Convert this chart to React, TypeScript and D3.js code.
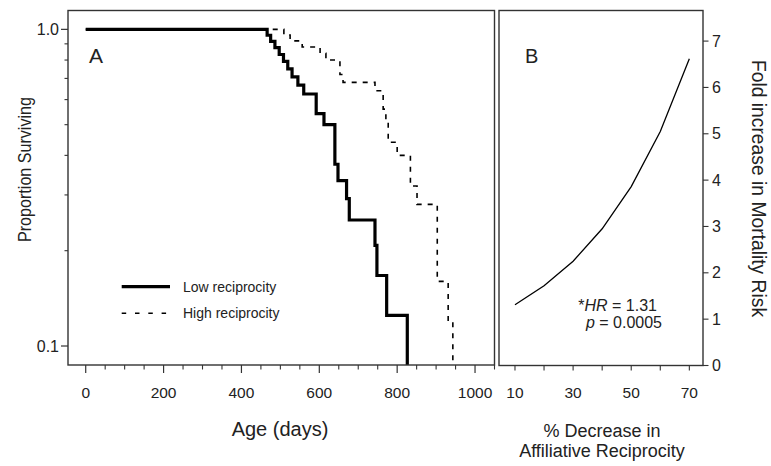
import * as d3 from 'd3'

// Panel A: Kaplan-Meier survival (step curves)
const lowAge = [0, 466, 475, 486, 497, 508, 519, 530, 545, 560, 592, 612, 640, 648, 670, 677, 743, 748, 773, 826]
const lowSurv = [1, 0.958, 0.917, 0.875, 0.833, 0.792, 0.75, 0.708, 0.667, 0.625, 0.542, 0.5, 0.375, 0.333, 0.292, 0.25, 0.208, 0.167, 0.125, 0]
const highAge = [0, 509, 525, 556, 602, 617, 653, 661, 743, 764, 771, 777, 800, 834, 851, 903, 931, 943]
const highSurv = [1, 0.96, 0.92, 0.88, 0.84, 0.8, 0.72, 0.68, 0.64, 0.56, 0.52, 0.44, 0.4, 0.32, 0.28, 0.16, 0.12, 0]
const ageTicks = [0, 200, 400, 600, 800, 1000]
const ageMinor = [50, 100, 150, 250, 300, 350, 450, 500, 550, 650, 700, 750, 850, 900, 950, 1050]
const survTicks = [0.1, 1.0]
const survMinor = [0.2, 0.3, 0.4, 0.5, 0.6, 0.7, 0.8, 0.9]

// Panel B: fold increase in mortality risk
const decrease = [10, 20, 30, 40, 50, 60, 70]
const foldRisk = [1.31, 1.72, 2.25, 2.95, 3.86, 5.05, 6.62]
const decreaseTicks = [10, 20, 30, 40, 50, 60, 70]
const decreaseLabels = [10, 30, 50, 70]
const riskTicks = [0, 1, 2, 3, 4, 5, 6, 7]

const FONT = 'Arial, "Liberation Sans", Helvetica, sans-serif'
const INK = '#222'
const FRAME = '#333'

export default function App() {
  // panel A geometry
  const aL = 68, aR = 494.5, aT = 10.5, aB = 365
  const xA = d3.scaleLinear().domain([-45.5, 1050]).range([aL, aR])
  const yA = d3.scaleLog().domain([0.0871, 1.147]).range([aB, aT])

  // panel B geometry
  const bL = 499, bR = 703, bT = 10.5, bB = 365.5
  const xB = d3.scaleLinear().domain([4.5, 74.7]).range([bL, bR])
  const yB = d3.scaleLinear().domain([0, 7.66]).range([bB, bT])

  const step = d3.line<[number, number]>()
    .x(d => xA(d[0]))
    .y(d => (d[1] > 0 ? yA(d[1]) : aB))
    .curve(d3.curveStepAfter)

  const lowPath = step(lowAge.map((a, i) => [a, lowSurv[i]] as [number, number]))
  const highPath = step(highAge.map((a, i) => [a, highSurv[i]] as [number, number]))

  const riskLine = d3.line<number>()
    .x((_, i) => xB(decrease[i]))
    .y(d => yB(d))

  return (
    <svg
      width={771}
      height={466}
      style={{ position: 'absolute', left: 0, top: 0, background: '#fff' }}
      fontFamily={FONT}
    >
      <defs>
        <clipPath id="clipA">
          <rect x={aL} y={aT} width={aR - aL} height={aB - aT} />
        </clipPath>
      </defs>

      {/* Panel A curves */}
      <g clipPath="url(#clipA)">
        <path d={highPath || ''} fill="none" stroke="#000" strokeWidth={1.6} strokeDasharray="5,6" />
        <path d={lowPath || ''} fill="none" stroke="#000" strokeWidth={3.2} />
      </g>

      {/* Panel A frame */}
      <rect x={aL} y={aT} width={aR - aL} height={aB - aT} fill="none" stroke={FRAME} strokeWidth={1.4} />

      {/* Panel A x axis */}
      {ageTicks.map(t => (
        <g key={'ax' + t}>
          <line x1={xA(t)} x2={xA(t)} y1={aB} y2={aB + 8} stroke={FRAME} strokeWidth={1.2} />
          <text x={xA(t)} y={398} textAnchor="middle" fontSize={15.5} fill={INK}>{t}</text>
        </g>
      ))}
      {ageMinor.map(t => (
        <line key={'am' + t} x1={xA(t)} x2={xA(t)} y1={aB} y2={aB + 4.5} stroke={FRAME} strokeWidth={1.1} />
      ))}
      <text x={280} y={436} textAnchor="middle" fontSize={20} fill={INK}>Age (days)</text>

      {/* Panel A y axis */}
      {survTicks.map(t => (
        <g key={'ay' + t}>
          <line x1={aL - 7} x2={aL} y1={yA(t)} y2={yA(t)} stroke={FRAME} strokeWidth={1.2} />
          <text x={aL - 9} y={yA(t)} dy="0.35em" textAnchor="end" fontSize={16} fill={INK}>{t.toFixed(1)}</text>
        </g>
      ))}
      {survMinor.map(t => (
        <line key={'ym' + t} x1={aL - 3.5} x2={aL} y1={yA(t)} y2={yA(t)} stroke={FRAME} strokeWidth={1.1} />
      ))}
      <text
        transform="translate(31,169.5) rotate(-90)"
        textAnchor="middle"
        fontSize={19}
        textLength={145}
        lengthAdjust="spacingAndGlyphs"
        fill={INK}
      >
        Proportion Surviving
      </text>

      <text x={89} y={63} fontSize={21} fill={INK}>A</text>

      {/* Legend */}
      <line x1={121.7} x2={170} y1={286.7} y2={286.7} stroke="#000" strokeWidth={3.2} />
      <text x={183} y={291.5} fontSize={14} fill={INK}>Low reciprocity</text>
      <line x1={121.7} x2={170} y1={313.3} y2={313.3} stroke="#000" strokeWidth={1.6} strokeDasharray="4.5,8.8" />
      <text x={183} y={318.3} fontSize={14} fill={INK}>High reciprocity</text>

      {/* Panel B */}
      <path d={riskLine(foldRisk) || ''} fill="none" stroke="#000" strokeWidth={1.3} />
      <rect x={bL} y={bT} width={bR - bL} height={bB - bT} fill="none" stroke={FRAME} strokeWidth={1.4} />

      {decreaseTicks.map(t => (
        <line key={'bx' + t} x1={xB(t)} x2={xB(t)} y1={bB} y2={bB + 5} stroke={FRAME} strokeWidth={1.1} />
      ))}
      {decreaseLabels.map(t => (
        <text key={'bl' + t} x={xB(t)} y={398} textAnchor="middle" fontSize={15.5} fill={INK}>{t}</text>
      ))}
      <text x={602} y={436.5} textAnchor="middle" fontSize={18} fill={INK}>% Decrease in</text>
      <text x={602} y={457.3} textAnchor="middle" fontSize={18} fill={INK}>Affiliative Reciprocity</text>

      {riskTicks.map(t => (
        <g key={'by' + t}>
          <line x1={bR} x2={bR + 5.5} y1={yB(t)} y2={yB(t)} stroke={FRAME} strokeWidth={1.1} />
          <text x={bR + 9} y={yB(t)} dy="0.35em" fontSize={16} fill={INK}>{t}</text>
        </g>
      ))}
      <text
        transform="translate(752,188.5) rotate(90)"
        textAnchor="middle"
        fontSize={19.3}
        fill={INK}
      >
        Fold increase in Mortality Risk
      </text>

      <text x={525} y={63} fontSize={20} fill={INK}>B</text>

      <text x={657} y={311} textAnchor="end" fontSize={16} fill={INK}>
        *<tspan fontStyle="italic">HR</tspan> = 1.31
      </text>
      <text x={662} y={328} textAnchor="end" fontSize={16} fill={INK}>
        <tspan fontStyle="italic">p</tspan> = 0.0005
      </text>
    </svg>
  )
}
